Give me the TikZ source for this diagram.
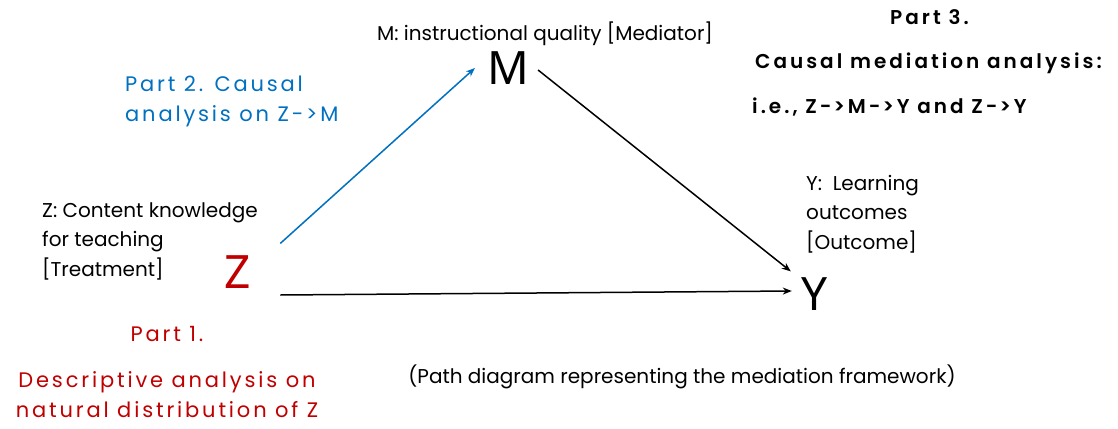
\documentclass[tikz,border=0pt]{standalone}
\usepackage{fontspec}
\setmainfont{Poppins}
\newfontfamily\varfont{Noto Sans}
\newfontfamily\semibd{Poppins SemiBold}
\usetikzlibrary{arrows.meta}
\definecolor{partred}{RGB}{192,0,0}
\definecolor{partblue}{RGB}{0,112,192}
\tikzset{
  var/.style={inner sep=0pt, font=\varfont\fontsize{46}{46}\selectfont},
  lbl/.style={align=left, inner sep=0pt, font=\fontsize{20}{29.5}\selectfont},
  part/.style={align=left, inner sep=0pt, font=\fontsize{21}{30}\selectfont\addfontfeatures{LetterSpace=13.5}},
  path/.style={->, line width=1.5pt},
}
\begin{document}
\begin{tikzpicture}[x=1pt, y=-1pt, >={Stealth[length=9pt,width=7pt]}]
  \useasboundingbox (0,0) rectangle (1118,428);
  % variables
  \node[var] (M) at (508,68) {M};
  \node[var, text=partred] (Z) at (238,272) {Z};
  \node[var] (Y) at (815,294) {Y};
  % labels of the variables
  \node[lbl, anchor=north] (Mlbl) at (545,22) {M: instructional quality [Mediator]};
  \node[lbl, anchor=north west] (Zlbl) at (42,202) {Z: Content knowledge\\for teaching\\{[Treatment]}};
  \node[lbl, anchor=north west] (Ylbl) at (806,175) {Y:~ Learning\\outcomes\\{[Outcome]}};
  % the three parts
  \node[part, text=partred, align=center, anchor=north] (part1) at (167,326) {Part 1.\\[16pt]Descriptive analysis on\\natural distribution of Z};
  \node[part, text=partblue, anchor=north west] (part2) at (125,76) {Part 2. Causal\\analysis on Z->M};
  \node[part, font=\semibd\fontsize{20}{44.5}\selectfont\addfontfeatures{LetterSpace=15}, anchor=north west] (part3) at (752,9)
    {\hspace*{138pt}Part 3.\\\hspace*{3pt}Causal mediation analysis:\\i.e., Z-\kern2pt>M-\kern2pt>Y and Z-\kern2pt>Y};
  \node[lbl, anchor=north] (caption) at (682,365) {(Path diagram representing the mediation framework)};
  % paths
  \draw[path, partblue] ([shift={(29,-12)}]Z.north east) -- ([xshift=-12pt]M.west);
  \draw[path] ([shift={(9,2)}]M.east) -- ([shift={(-11,-6)}]Y.north west);
  \draw[path] ([shift={(29,23)}]Z.east) -- ([shift={(-10,-3)}]Y.west);
\end{tikzpicture}
\end{document}
